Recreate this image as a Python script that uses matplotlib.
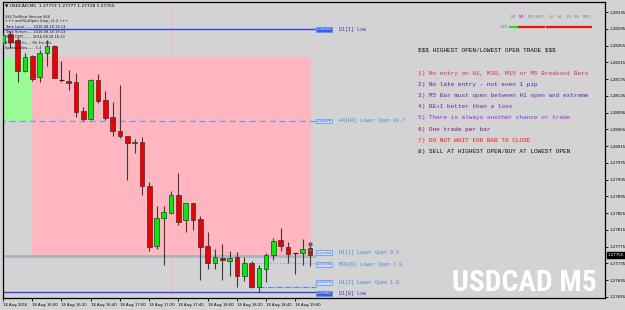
import matplotlib
matplotlib.use('Agg')
import matplotlib.pyplot as plt
from matplotlib.patches import Rectangle
from matplotlib.transforms import Affine2D, blended_transform_factory

plt.rcParams['text.parse_math'] = False

# USDCAD M5 candles (one per 5 minutes, first bar 15:40)
opens = [1.28261, 1.28282, 1.28268, 1.28194, 1.28230, 1.28180, 1.28237, 1.28254, 1.28173, 1.28170,
         1.28168, 1.28099, 1.28080, 1.28173, 1.28125, 1.28084, 1.28051, 1.28039, 1.28022, 1.28025,
         1.27920, 1.27776, 1.27843, 1.27855, 1.27898, 1.27839, 1.27879, 1.27841, 1.27776, 1.27736,
         1.27748, 1.27741, 1.27750, 1.27705, 1.27736, 1.27679, 1.27722, 1.27755, 1.27791, 1.27774,
         1.27760, 1.27760, 1.27772]
highs = [1.28285, 1.28290, 1.28273, 1.28237, 1.28232, 1.28244, 1.28268, 1.28256, 1.28218, 1.28197,
         1.28189, 1.28108, 1.28175, 1.28187, 1.28146, 1.28120, 1.28161, 1.28039, 1.28032, 1.28037,
         1.27929, 1.27872, 1.27872, 1.27908, 1.27951, 1.27879, 1.27879, 1.27848, 1.27810, 1.27769,
         1.27781, 1.27765, 1.27762, 1.27750, 1.27741, 1.27731, 1.27760, 1.27796, 1.27819, 1.27786,
         1.27760, 1.27793, 1.27777]
lows = [1.28256, 1.28249, 1.28168, 1.28192, 1.28170, 1.28168, 1.28206, 1.28177, 1.28168, 1.28149,
        1.28084, 1.28075, 1.28077, 1.28118, 1.28077, 1.28039, 1.28034, 1.27934, 1.27998, 1.27898,
        1.27765, 1.27769, 1.27731, 1.27853, 1.27827, 1.27810, 1.27815, 1.27695, 1.27722, 1.27722,
        1.27695, 1.27705, 1.27679, 1.27693, 1.27676, 1.27667, 1.27691, 1.27743, 1.27765, 1.27736,
        1.27710, 1.27731, 1.27728]
closes = [1.28280, 1.28263, 1.28194, 1.28228, 1.28175, 1.28237, 1.28254, 1.28177, 1.28172, 1.28166,
          1.28096, 1.28080, 1.28173, 1.28123, 1.28082, 1.28051, 1.28039, 1.28022, 1.28025, 1.27920,
          1.27774, 1.27843, 1.27858, 1.27898, 1.27834, 1.27879, 1.27839, 1.27774, 1.27736, 1.27750,
          1.27743, 1.27748, 1.27705, 1.27736, 1.27679, 1.27724, 1.27755, 1.27788, 1.27776, 1.27757,
          1.27760, 1.27769, 1.27755]

time_labels = ['18 Aug 2016', '18 Aug 16:00', '18 Aug 16:20', '18 Aug 16:40', '18 Aug 17:00',
               '18 Aug 17:20', '18 Aug 17:40', '18 Aug 18:00', '18 Aug 18:20', '18 Aug 18:40',
               '18 Aug 19:00']
time_label_bars = [0, 4, 8, 12, 16, 20, 24, 28, 32, 36, 40]

price_ticks = [1.28335, 1.28295, 1.28255, 1.28215, 1.28175, 1.28135, 1.28095, 1.28055, 1.28015,
               1.27975, 1.27935, 1.27895, 1.27855, 1.27815, 1.27775, 1.27735, 1.27695, 1.27655]
current_price = 1.27755

# H1 open zones (bar range, price range)
green_zone = [-1, 4, 1.28075, 1.28228]
pink_zone = [4, 42.1, 1.27753, 1.28228]
separator_bar = 23

# levels drawn by the indicator
level_prices = [1.28294, 1.28075, 1.27753, 1.27736, 1.27679, 1.27667]
level_label_prices = [1.28294, 1.28075, 1.27760, 1.27733, 1.27690, 1.27664]
level_names = ['D1[1] Low', 'H4[H4] Lower Open 43.7', 'H1[1] Lower Open 9.2',
               'M30[0] Lower Open 7.8', 'H1[2] Lower Open 1.8', 'D1[0] Low']
level_start = [-1, -1, -1, 34.2, 35, -1]
level_colors = ['#3340ee', '#7b9fd4', '#a9b3c2', '#78a8ee', '#5a86e8', '#3340ee']
level_styles = ['-', (0, (5, 3)), '-', ':', (0, (4, 1, 1, 1)), '-']
level_widths = [1.0, 0.9, 2.0, 0.9, 0.9, 1.0]

rules = ['1) No entry on H1, M30, M15 or M5 Breakout Bars',
         '2) No late entry - not even 1 pip',
         '3) M5 Bar must open between H1 open and extreme',
         '4) BE+1 better than a loss',
         '5) There is always another chance or trade',
         '6) One trade per bar',
         '7) DO NOT WAIT FOR BAR TO CLOSE',
         '8) SELL AT HIGHEST OPEN/BUY AT LOWEST OPEN']
rule_colors = ['#e0245e', '#56209a', '#6a1fb0', '#7a1fa8', '#8a2be2', '#7e127e', '#ff1010', '#111111']

info_lines = ['$$$ TooSlow Version $$$', '+++ amHiLoOpen Ump_v1.2 +++',
              'Time Local....... 2016.08.18 19:13', 'Time Server..... 2016.08.18 19:13',
              'Time GMT........ 2016.08.18 16:13', 'Bar Ends In..... 0h 1m 43s',
              'Spread Now....... 1.4']

tf_names = ['M1', 'M5', 'M15', 'M30', 'H1', 'H4', 'D1', 'W1', 'MN1']
tf_up = [True, False, False, False, False, False, False, False, False]

W, H = 625, 310
BG = '#d3d3d3'
fig = plt.figure(figsize=(W / 100, H / 100), dpi=100, facecolor=BG)
pix = Affine2D().scale(1 / W, -1 / H).translate(0, 1) + fig.transFigure

ax = fig.add_axes([3 / W, 1 - 298 / H, 602 / W, 296 / H], facecolor=BG)
X0, DX = 1.33, 7.33          # pixel position of bar 0 and bar spacing
P12, PPX = 1.28335, 0.0004 / 16.76
ax.set_xlim((3 - X0) / DX, (605 - X0) / DX)
ax.set_ylim(P12 - (298 - 12) * PPX, P12 - (2 - 12) * PPX)
for s in ax.spines.values():
    s.set_color('black')
    s.set_linewidth(0.9)

mono = 'Liberation Mono'

# zones
ax.add_patch(Rectangle((green_zone[0], green_zone[2]), green_zone[1] - green_zone[0],
                       green_zone[3] - green_zone[2], fc='#98fb98', ec='none', zorder=1))
ax.add_patch(Rectangle((pink_zone[0], pink_zone[2]), pink_zone[1] - pink_zone[0],
                       pink_zone[3] - pink_zone[2], fc='#ffb6c1', ec='none', zorder=1))
ax.axvline(separator_bar, color='#ffb6c1', lw=0.8, zorder=1.5)

# levels
lab_x = (315 - X0) / DX
for p, st, c, ls, lw in zip(level_prices, level_start, level_colors, level_styles, level_widths):
    ax.hlines(p, st, lab_x, colors=c, linestyles=ls, lw=lw, zorder=2)

# candles
bw = 0.64
for i, (o, h, l, c) in enumerate(zip(opens, highs, lows, closes)):
    ax.vlines(i, l, h, color='#3a3a3a', lw=0.8, zorder=3)
    if abs(c - o) < 0.00002:
        ax.hlines(o, i - bw / 2, i + bw / 2, color='#222222', lw=0.8, zorder=4)
    else:
        fc = '#00ee00' if c > o else '#ee0000'
        ax.add_patch(Rectangle((i - bw / 2, min(o, c)), bw, abs(c - o), fc=fc, ec='#333333',
                               lw=0.5, zorder=4))
last = len(opens) - 1
ax.plot([last, last], [1.27781, 1.27767], 'o', ms=2.4, mfc='#777777', mec='#333333', mew=0.5,
        zorder=5)

# axes ticks
ax.yaxis.tick_right()
ax.set_yticks(price_ticks)
ax.set_yticklabels(['%.5f' % v for v in price_ticks])
ax.tick_params(axis='y', length=2, width=0.6, pad=1, labelsize=2.9, colors='black')
ax.set_xticks(time_label_bars)
ax.set_xticklabels(time_labels, ha='left')
ax.tick_params(axis='x', length=2, width=0.6, pad=1.5, labelsize=2.7, colors='black')

ybl = blended_transform_factory(ax.transAxes, ax.transData)
ax.text(1.004, current_price, '%.5f' % current_price, transform=ybl, fontsize=2.9, color='white',
        va='center', ha='left', bbox=dict(fc='black', ec='black', pad=0.6), zorder=6)

# level labels
for k, (p, name, c) in enumerate(zip(level_label_prices, level_names, level_colors)):
    solid = k in (0, len(level_names) - 1)
    fc = '#3b5bf0' if solid else '#c9dcf7'
    tc = 'white' if solid else '#2f6fe0'
    ax.text(lab_x + 0.1, p, '%.5f' % level_prices[k], fontsize=2.6, color=tc, va='center',
            ha='left', family=mono, bbox=dict(fc=fc, ec='#5c93e8', lw=0.5, pad=0.3), zorder=6)
    ax.text((338 - X0) / DX, p, name, fontsize=3.6, family=mono, va='center', ha='left',
            color='#3535d0' if solid else '#4a86e8', zorder=6)

# rules text block
fig.text(418, 50, '$$$ HIGHEST OPEN/LOWEST OPEN TRADE $$$', transform=pix, family=mono,
         fontsize=4.4, va='center', ha='left', color='#111111')
for j, (r, c) in enumerate(zip(rules, rule_colors)):
    fig.text(418, 73 + j * 11.2, r, transform=pix, family=mono, fontsize=4.4, va='center',
             ha='left', color=c)

# info panel
fig.text(5, 5.5, '\u25bc USDCAD,M5  1.27772 1.27777 1.27728 1.27755', transform=pix,
         fontsize=3.2, va='center', ha='left', color='black')
for j, t in enumerate(info_lines):
    fig.text(5, 16 + j * 5.35, t, transform=pix, fontsize=2.6, va='center', ha='left',
             color='#1a1a1a')

# timeframe panel
tf_x = [514, 521.5, 531.5, 540, 551, 559.5, 569, 577, 587]
dash_x = [513.5, 523, 532, 540.5, 550.5, 559.5, 568.5, 578, 587]
for name, x in zip(tf_names, tf_x):
    fig.text(x, 16.5, name, transform=pix, fontsize=2.8, ha='center', va='center',
             color='#ff00ff' if name == 'M5' else '#8a8a8a')
for up, x in zip(tf_up, dash_x):
    fig.add_artist(plt.Line2D([x - 3.6, x + 3.6], [27, 27], transform=pix, lw=1.6,
                              color='#22dd22' if up else '#ee1111'))
fig.text(504, 27, 'CAN', transform=pix, fontsize=2.8, ha='center', va='center', color='#8a8a8a')

# symbol watermark, sized to span about 145 px like the reference
wm = fig.text(597, 291, 'USDCAD M5', transform=pix, fontsize=25, fontweight='bold',
              family=['Roboto Condensed', 'Liberation Sans Narrow', 'DejaVu Sans Condensed',
                      'DejaVu Sans'],
              fontstretch='condensed', color='white', ha='right', va='baseline')
fig.canvas.draw()
wm.set_fontsize(25 * 145 / wm.get_window_extent().width)

fig.savefig('out.png', dpi=100, facecolor=BG)
